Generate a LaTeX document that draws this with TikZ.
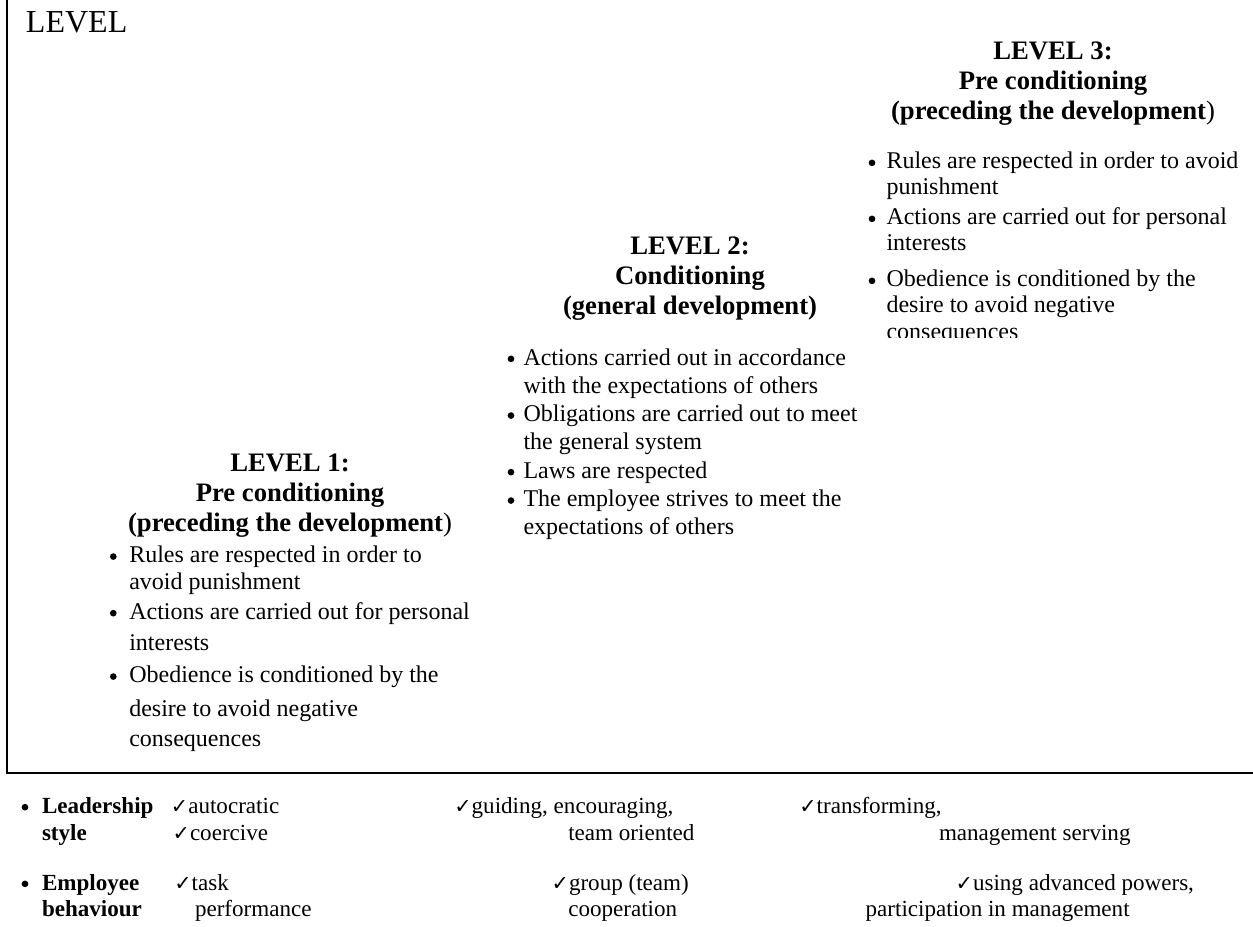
\documentclass[tikz,border=0pt]{standalone}
\usepackage{fontspec}
\setmainfont{Liberation Serif}
\newfontfamily\symfont{DejaVu Sans}
\begin{document}
\begin{tikzpicture}[x=0.75pt,y=-0.75pt,
  every node/.style={inner sep=0pt,outer sep=0pt},
  axisline/.style={line width=1.5pt},
  title/.style={anchor=base west,font=\fontsize{24}{24}\selectfont},
  head/.style={anchor=base,font=\fontsize{20}{20}\selectfont\bfseries},
  txt/.style={anchor=base west,font=\fontsize{18}{18}\selectfont},
  bul/.style={circle,fill=black,minimum size=5pt,yshift=4.6pt},
  low/.style={anchor=base west,font=\fontsize{17.3}{17.3}\selectfont},
  lowb/.style={anchor=base west,font=\fontsize{17.3}{17.3}\selectfont\bfseries},
  chk/.style={anchor=base east,font=\symfont\fontsize{15.5}{15.5}\selectfont}]
\useasboundingbox (0,0) rectangle (1253,927);

% axes
\coordinate (top) at (7,0);
\coordinate (origin) at (7,773);
\coordinate (right) at (1253,773);
\draw[axisline] (top) -- (origin) -- (right);

\node[title] (axis) at (26,33) {LEVEL};

% level 3 (text box clipped at its bottom edge)
\begin{scope}
\clip (850,0) rectangle (1253,337);
\node[head] (h3a) at (1053,60) {LEVEL 3:};
\node[head] (h3b) at (1053,90) {Pre conditioning};
\node[head] (h3c) at (1053,120) {(preceding the development{\mdseries)}};
\node[bul] (b3a) at (872,169) {};
\node[bul] (b3b) at (872,225) {};
\node[bul] (b3c) at (872,287) {};
\node[txt] (t3a) at (886.5,169) {Rules are respected in order to avoid};
\node[txt] (t3b) at (886.5,195) {punishment};
\node[txt] (t3c) at (886.5,225) {Actions are carried out for personal};
\node[txt] (t3d) at (886.5,251) {interests};
\node[txt] (t3e) at (886.5,287) {Obedience is conditioned by the};
\node[txt] (t3f) at (886.5,313) {desire to avoid negative};
\node[txt] (t3g) at (886.5,339.5) {consequences};
\end{scope}

% level 2
\node[head] (h2a) at (690,254.3) {LEVEL 2:};
\node[head] (h2b) at (690,285) {Conditioning};
\node[head] (h2c) at (690,314.3) {(general development)};
\node[bul] (b2a) at (511,365) {};
\node[bul] (b2b) at (511,421.7) {};
\node[bul] (b2c) at (511,478.3) {};
\node[bul] (b2d) at (511,506.7) {};
\node[txt] (t2a) at (523.5,365) {Actions carried out in accordance};
\node[txt] (t2b) at (523.5,393.3) {with the expectations of others};
\node[txt] (t2c) at (523.5,421.7) {Obligations are carried out to meet};
\node[txt] (t2d) at (523.5,449.3) {the general system};
\node[txt] (t2e) at (523.5,478.3) {Laws are respected};
\node[txt] (t2f) at (523.5,506.7) {The employee strives to meet the};
\node[txt] (t2g) at (523.5,534.3) {expectations of others};

% level 1
\node[head] (h1a) at (290,471.7) {LEVEL 1:};
\node[head] (h1b) at (290,501.7) {Pre conditioning};
\node[head] (h1c) at (290,531.7) {(preceding the development{\mdseries)}};
\node[bul] (b1a) at (113.3,562.7) {};
\node[bul] (b1b) at (113.3,619.3) {};
\node[bul] (b1c) at (113.3,682.7) {};
\node[txt] (t1a) at (129.3,562.7) {Rules are respected in order to};
\node[txt] (t1b) at (129.3,589) {avoid punishment};
\node[txt] (t1c) at (129.3,619.3) {Actions are carried out for personal};
\node[txt] (t1d) at (129.3,650.7) {interests};
\node[txt] (t1e) at (129.3,682.7) {Obedience is conditioned by the};
\node[txt] (t1f) at (129.3,716.7) {desire to avoid negative};
\node[txt] (t1g) at (129.3,746.7) {consequences};

% characteristics below the axis
\node[bul] (bl1) at (25,813.3) {};
\node[bul] (bl2) at (25,890) {};
\node[lowb] (ls1) at (42,813.3) {Leadership};
\node[lowb] (ls2) at (42,840) {style};
\node[lowb] (eb1) at (42,890) {Employee};
\node[lowb] (eb2) at (42,916.7) {behaviour};

\node[low] (ls1a) at (188.3,813.3) {autocratic};
\node[chk] (c1) at (ls1a.base west) {✓};
\node[low] (ls1b) at (190,840) {coercive};
\node[chk] (c2) at (ls1b.base west) {✓};
\node[low] (eb1a) at (191.7,890) {task};
\node[chk] (c3) at (eb1a.base west) {✓};
\node[low] (eb1b) at (195,916.7) {performance};

\node[low] (ls2a) at (471.7,813.3) {guiding, encouraging,};
\node[chk] (c4) at (ls2a.base west) {✓};
\node[low] (ls2b) at (568.3,840) {team oriented};
\node[low] (eb2a) at (569,890) {group (team)};
\node[chk] (c5) at (eb2a.base west) {✓};
\node[low] (eb2b) at (568.3,916.7) {cooperation};

\node[low] (ls3a) at (816.7,813.3) {transforming,};
\node[chk] (c6) at (ls3a.base west) {✓};
\node[low] (ls3b) at (939,840) {management serving};
\node[low] (eb3a) at (973,890) {using advanced powers,};
\node[chk] (c7) at (eb3a.base west) {✓};
\node[low] (eb3b) at (865.7,916.7) {participation in management};
\end{tikzpicture}
\end{document}
